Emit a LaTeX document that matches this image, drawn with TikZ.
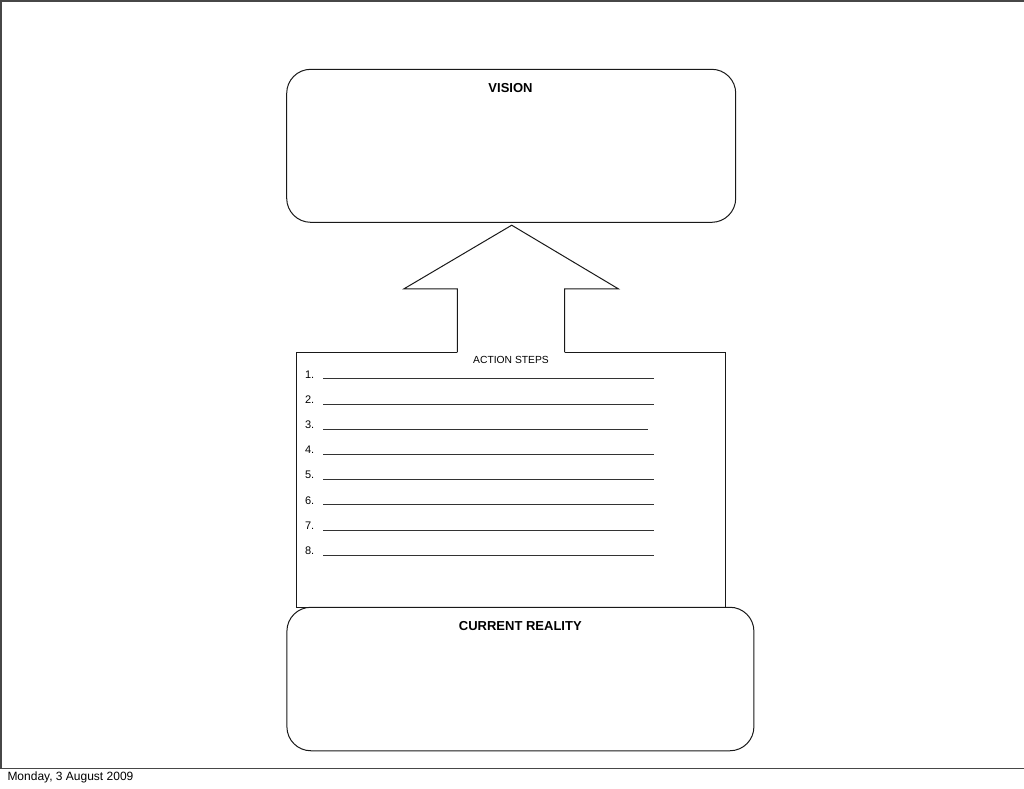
\documentclass[tikz,border=0pt]{standalone}
\usepackage{fontspec}
\setmainfont{Liberation Sans}
\begin{document}
\begin{tikzpicture}[x=1pt,y=-1pt,
  box/.style={draw=black!90, line width=1pt},
  rbox/.style={box, rounded corners=24pt, inner sep=0pt},
  title/.style={font=\fontsize{13}{15}\selectfont\bfseries, anchor=base, inner sep=0pt},
  steptext/.style={font=\fontsize{11}{13}\selectfont, anchor=base west, inner sep=0pt},
  frame/.style={draw=black!72, line width=1.6pt}]
\useasboundingbox (0,0) rectangle (1024,788);
% slide frame
\draw[frame] (1024,0.8) -- (0.8,0.8) -- (0.8,768.3) -- (1024,768.3);
% vision box
\node[rbox, minimum width=449pt, minimum height=153pt] (vision) at (511.2,145.8) {};
\node[title] (visiontxt) at (510.5,92.3) {VISION};
% arrow
\coordinate (sl) at (457.3,352.3);
\coordinate (sr) at (564.5,352.3);
\draw[box] (sl) -- (457.3,288.8) -- (404,288.8) -- (511.7,225.2) -- (618.3,288.8) -- (564.5,288.8) -- (sr);
% action steps box
\draw[box] (sl) -- (296,352.3) -- (296,607.3) -- (725,607.3) -- (725,352.3) -- (sr);
\node[font=\fontsize{10.3}{12}\selectfont, anchor=base, inner sep=0pt] (astxt) at (511,363.3) {ACTION STEPS};
\foreach \i/\w in {1/331,2/331,3/325,4/331,5/331,6/331,7/331,8/331}{
  \node[steptext] (s\i) at (304.8,{378+25.2*(\i-1)}) {\makebox[18.2pt][l]{\i.}\textcolor{black!80}{\rule[-1pt]{\w pt}{0.6pt}}};
}
% current reality box
\node[rbox, minimum width=467pt, minimum height=143.5pt] (current) at (520.4,679) {};
\node[title] (currenttxt) at (520.3,630) {CURRENT REALITY};
% footer
\node[font=\fontsize{12}{14}\selectfont, anchor=base west, inner sep=0pt] (date) at (7.3,780.7) {Monday, 3 August 2009};
\end{tikzpicture}
\end{document}
